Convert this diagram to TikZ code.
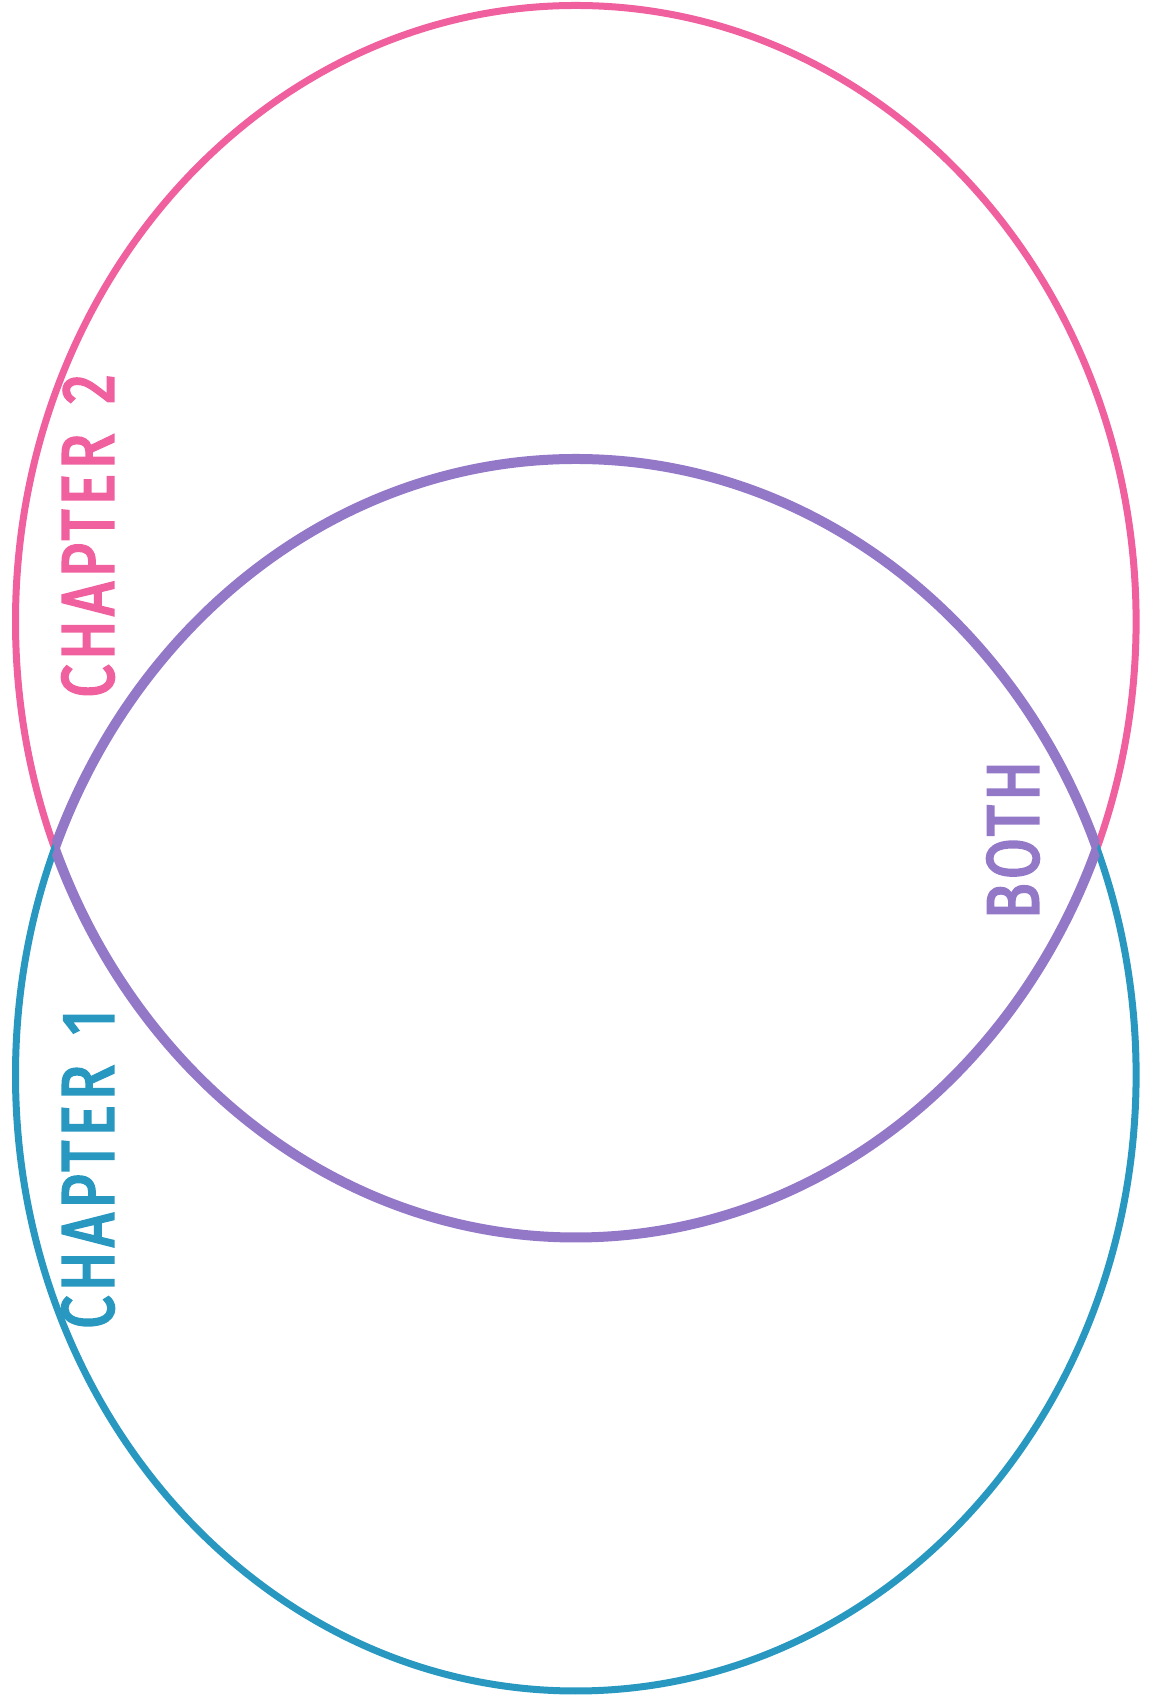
\documentclass[tikz,border=0pt]{standalone}
\usepackage{fontspec}
\newfontfamily\vennfont[FakeStretch=0.8,LetterSpace=6,FakeBold=3]{Fira Sans}
\definecolor{pinkline}{RGB}{240,96,158}
\definecolor{blueline}{RGB}{40,152,192}
\definecolor{purpleline}{RGB}{148,120,200}
\begin{document}
\begin{tikzpicture}[
  x=1bp, y=1bp,
  ring/.style={line width=7bp},
  lens/.style={line width=10bp, draw=purpleline},
  lbl/.style={rotate=90, inner sep=0pt, font=\vennfont\fontsize{74}{80}\selectfont}
]
\useasboundingbox (0,0) rectangle (1152,1699);
% the two sets
\draw[ring, pinkline] (575.8,1077.5) ellipse [x radius=560.3, y radius=616];
\draw[ring, blueline] (575.8,624) ellipse [x radius=560.3, y radius=616];
% the overlap
\begin{scope}
  \clip (575.8,1077.5) ellipse [x radius=560.3, y radius=616];
  \draw[lens] (575.8,624) ellipse [x radius=560.3, y radius=616];
\end{scope}
\begin{scope}
  \clip (575.8,624) ellipse [x radius=560.3, y radius=616];
  \draw[lens] (575.8,1077.5) ellipse [x radius=560.3, y radius=616];
\end{scope}
\node[lbl, text=pinkline] (ch2) at (88,1163) {CHAPTER\hspace{10bp} 2};
\node[lbl, text=blueline] (ch1) at (88,530) {CHAPTER\hspace{10bp} 1};
\node[lbl, text=purpleline] (both) at (1013,859) {BOTH};
\end{tikzpicture}
\end{document}
